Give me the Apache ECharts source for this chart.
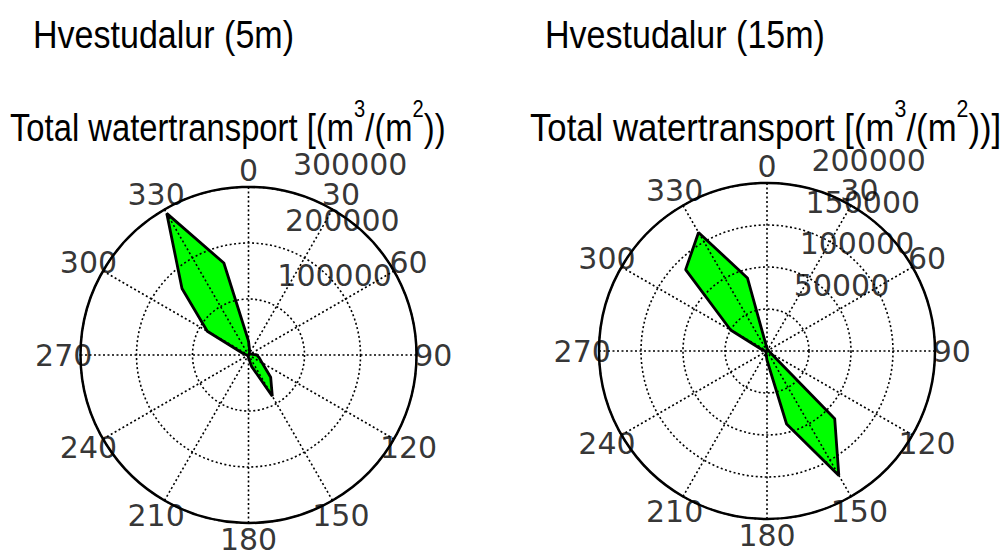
<!DOCTYPE html>
<html><head><meta charset="utf-8">
<script src="https://cdn.jsdelivr.net/npm/echarts@6/dist/echarts.min.js"></script>
<style>html,body{margin:0;padding:0;background:#fff}#c{width:1003px;height:554px}</style>
</head><body><div id="c"></div>
<script>
// Directions (degrees, clockwise from north) and total water transport values
const directions = [0,15,30,45,60,75,90,105,120,135,150,165,180,195,210,225,240,255,270,285,300,315,330,345];
const transport5m = [25000,8000,3000,3000,3000,6000,15000,20000,28000,56000,85000,21000,5000,2000,2000,2000,2000,2000,3000,10000,85000,168000,292000,170000];
const transport15m = [3000,2000,2000,2000,2000,2000,2000,3000,5000,114000,171000,90000,11000,4000,2000,2000,2000,2000,2000,6000,50000,137000,163000,90000];
const angleTickLabels = [0,30,60,90,120,150,180,210,240,270,300,330];
const radialTicks5m = [100000,200000,300000];
const radialTicks15m = [50000,100000,150000,200000];
const radialMax5m = 300000, radialStep5m = 100000;
const radialMax15m = 200000, radialStep15m = 50000;
const titles = ['Hvestudalur (5m)', 'Hvestudalur (15m)'];
const subtitleParts = [['Total watertransport [(m', '3', '/(m', '2', '))'], ['Total watertransport [(m', '3', '/(m', '2', '))]']];

const NUMFONT = 'DejaVu Sans';
const dotted = {color:'#000', width:1.6, type:[2,2.5]};

function polarDef(center){
  return {center:center, radius:168};
}
function angleAxisDef(idx){
  return {polarIndex:idx, type:'value', min:0, max:360, interval:30, startAngle:90, clockwise:true, z:20,
    axisLine:{show:true, lineStyle:{color:'#000', width:2.5}},
    axisTick:{show:false}, axisLabel:{show:false},
    splitLine:{show:true, lineStyle:dotted}};
}
function radiusAxisDef(idx, max, step){
  return {polarIndex:idx, type:'value', min:0, max:max, interval:step, z:20,
    axisLine:{show:false}, axisTick:{show:false}, axisLabel:{show:false},
    splitLine:{show:true, lineStyle:dotted}};
}
function shapeSeries(idx, vals){
  const data = directions.map((a,i)=>[vals[i], a]);
  data.push([vals[0], 360]);
  return {type:'line', coordinateSystem:'polar', polarIndex:idx, data:data, showSymbol:false, symbol:'none',
    smooth:false, z:1, silent:true, animation:false,
    lineStyle:{color:'#000', width:2.8}, areaStyle:{color:'#00ff00', opacity:1}};
}
const numLabel = {show:true, position:'inside', verticalAlign:'middle', color:'#000', textBorderWidth:0,
  fontFamily:NUMFONT, fontSize:30};
function radialLabelSeries(idx, ticks){
  return {type:'scatter', coordinateSystem:'polar', polarIndex:idx, symbolSize:1, z:30, silent:true, animation:false, clip:false,
    itemStyle:{color:'rgba(0,0,0,0)'},
    data: ticks.map(t=>[t, 8]),
    label:Object.assign({}, numLabel, {align:'left', offset:[21,-24], formatter:p=>String(p.value[0])})};
}
function angleLabelSeries(idx, max){
  return {type:'scatter', coordinateSystem:'polar', polarIndex:idx, symbolSize:1, z:30, silent:true, animation:false, clip:false,
    itemStyle:{color:'rgba(0,0,0,0)'},
    data: angleTickLabels.map(a=>[max*1.1, a]),
    label:Object.assign({}, numLabel, {align:'center', formatter:p=>String(p.value[1])})};
}
function textEl(txt, x, y){
  return {type:'text', x:x, y:y, scaleX:0.873, z:40,
    style:{text:txt, fontFamily:'Liberation Sans', fontSize:39, fill:'#000', verticalAlign:'middle', align:'left'}};
}
function subEl(parts, x, y, sx){
  return {type:'text', x:x, y:y, scaleX:sx, z:40,
    style:{text:'{b|'+parts[0]+'}{s|'+parts[1]+'}{b|'+parts[2]+'}{s|'+parts[3]+'}{b|'+parts[4]+'}',
      fill:'#000', verticalAlign:'middle', align:'left',
      rich:{b:{fontFamily:'Liberation Sans', fontSize:39, lineHeight:50, verticalAlign:'bottom'},
            s:{fontFamily:'Liberation Sans', fontSize:24, lineHeight:50, verticalAlign:'top'}}}};
}

const chart = echarts.init(document.getElementById('c'), null, {renderer:'svg'});
chart.setOption({
  animation:false,
  backgroundColor:'#fff',
  polar:[polarDef([248.5,355]), polarDef([767,351])],
  angleAxis:[angleAxisDef(0), angleAxisDef(1)],
  radiusAxis:[radiusAxisDef(0, radialMax5m, radialStep5m), radiusAxisDef(1, radialMax15m, radialStep15m)],
  series:[
    shapeSeries(0, transport5m), shapeSeries(1, transport15m),
    radialLabelSeries(0, radialTicks5m), radialLabelSeries(1, radialTicks15m),
    angleLabelSeries(0, radialMax5m), angleLabelSeries(1, radialMax15m)
  ],
  graphic:[
    textEl(titles[0], 33, 35), textEl(titles[1], 545, 35),
    subEl(subtitleParts[0], 10, 122, 0.84), subEl(subtitleParts[1], 530, 122, 0.89)
  ]
});
</script></body></html>
